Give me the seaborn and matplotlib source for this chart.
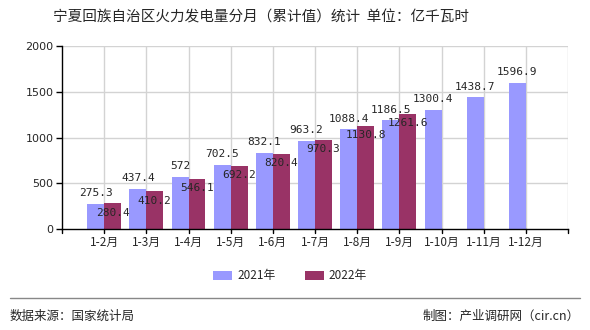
import matplotlib
matplotlib.use("Agg")
import matplotlib.pyplot as plt
import seaborn as sns
import pandas as pd
from matplotlib.patches import Patch

months = ["1-2月", "1-3月", "1-4月", "1-5月", "1-6月", "1-7月", "1-8月",
          "1-9月", "1-10月", "1-11月", "1-12月"]
v2021 = [275.3, 437.4, 572, 702.5, 832.1, 963.2, 1088.4, 1186.5, 1300.4, 1438.7, 1596.9]
v2022 = [280.4, 410.2, 546.1, 692.2, 820.4, 970.3, 1130.8, 1261.6]
years = ["2021年", "2022年"]
colors = ["#9999FF", "#993366"]
yticks = [0, 500, 1000, 1500, 2000]

sns.set_style("white")
plt.rcParams["font.family"] = ["Noto Sans CJK SC", "DejaVu Sans"]

rows = []
for m, v in zip(months, v2021):
    rows.append({"month": m, "value": v, "year": years[0]})
for m, v in zip(months[:len(v2022)], v2022):
    rows.append({"month": m, "value": v, "year": years[1]})
df = pd.DataFrame(rows)

fig = plt.figure(figsize=(5.9, 3.3), dpi=100)
ax = fig.add_axes([62 / 590, 1 - 229 / 330, (568 - 62) / 590, (229 - 46) / 330])

sns.barplot(data=df, x="month", y="value", hue="year", order=months,
            hue_order=years, palette=colors, saturation=1, width=0.8,
            ax=ax, legend=False, errorbar=None, linewidth=0, edgecolor="none")

ax.set_xlim(-1, len(months))
ax.set_ylim(0, 2000)
ax.set_yticks(yticks)
ax.set_yticklabels([str(t) for t in yticks], fontsize=8, family="DejaVu Sans")
ax.set_xticks(range(len(months)))
ax.set_xticklabels(months, fontsize=8.5)
ax.set_xlabel("")
ax.set_ylabel("")

# grid
for t in yticks[1:]:
    ax.axhline(t, color="#D3D3D3", lw=1, zorder=0)
for i in list(range(len(months))) + [len(months)]:
    ax.axvline(i, color="#D3D3D3", lw=1, zorder=0)
ax.set_axisbelow(True)

for s in ["top", "right"]:
    ax.spines[s].set_visible(False)
for s in ["left", "bottom"]:
    ax.spines[s].set_color("black")
    ax.spines[s].set_linewidth(1)
ax.tick_params(axis="y", length=4, width=1, color="black", pad=2, left=True)
ax.tick_params(axis="x", length=0, pad=5)
# boundary ticks on x axis
for b in [-1, len(months)]:
    ax.plot([b, b], [0, -45], color="black", lw=1, clip_on=False)
for i in range(len(months)):
    ax.plot([i, i], [0, -45], color="black", lw=1, clip_on=False)

# value labels
c21, c22 = ax.containers[0], ax.containers[1]
for p, v in zip(c21.patches, v2021):
    ax.annotate(f"{v:g}", (p.get_x() + p.get_width() / 2, p.get_height()),
                xytext=(0, 4), textcoords="offset points", ha="center",
                va="bottom", fontsize=8, family="DejaVu Sans Mono")
for p, v in zip(c22.patches, v2022):
    ax.annotate(f"{v:g}", (p.get_x() + p.get_width() / 2, p.get_height()),
                xytext=(0, -3), textcoords="offset points", ha="center",
                va="top", fontsize=8, family="DejaVu Sans Mono")

# legend
handles = [Patch(facecolor=c, edgecolor="none") for c in colors]
fig.legend(handles, years, loc="center", bbox_to_anchor=(290 / 590, 1 - 276 / 330),
           ncol=2, frameon=False, fontsize=8.5, handlelength=1.6, handleheight=0.7,
           columnspacing=2.5, handletextpad=0.4)

fig.text(261 / 590, 1 - 17 / 330, "宁夏回族自治区火力发电量分月（累计值）统计  单位：亿千瓦时",
         ha="center", va="center", fontsize=10.5)

fig.add_artist(plt.Line2D([10 / 590, 580 / 590], [1 - 298 / 330] * 2,
                          color="#888888", lw=1))
fig.text(10 / 590, 1 - 316 / 330, "数据来源：国家统计局", ha="left", va="center", fontsize=9)
fig.text(580 / 590, 1 - 316 / 330, "制图：产业调研网（cir.cn）", ha="right", va="center", fontsize=9)

fig.savefig("out.png", dpi=100)
